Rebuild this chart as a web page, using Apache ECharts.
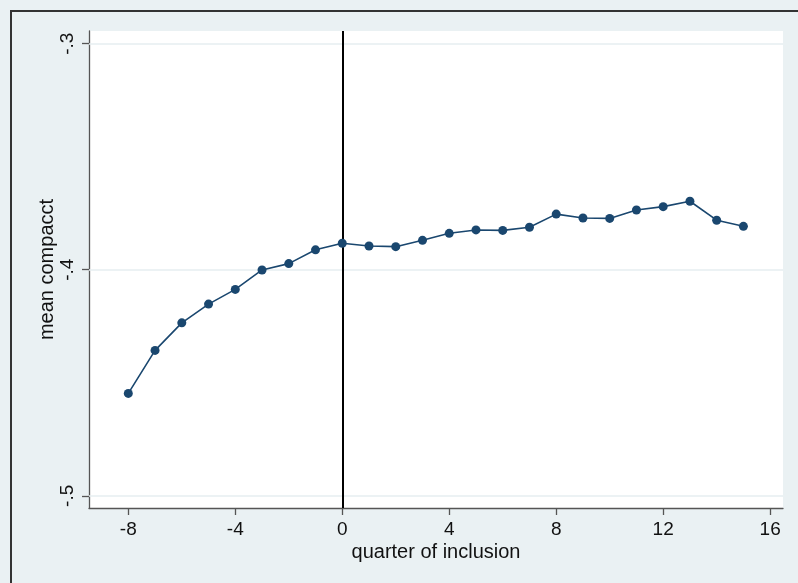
<!DOCTYPE html>
<html>
<head>
<meta charset="utf-8">
<script src="https://cdn.jsdelivr.net/npm/echarts@6/dist/echarts.min.js"></script>
<style>
  html, body { margin: 0; padding: 0; background: #eaf1f3; }
  #wrap { position: relative; width: 798px; height: 583px; overflow: hidden; background: #eaf1f3; }
  #frame { position: absolute; left: 10px; top: 10px; width: 800px; height: 600px; border-left: 2px solid #333; border-top: 2px solid #333; box-sizing: border-box; pointer-events: none; }
  #chart { position: absolute; left: 0; top: 0; width: 798px; height: 583px; }
</style>
</head>
<body>
<div id="wrap">
  <div id="chart"></div>
  <div id="frame"></div>
</div>
<script>
const quarters = [-8, -7, -6, -5, -4, -3, -2, -1, 0, 1, 2, 3, 4, 5, 6, 7, 8, 9, 10, 11, 12, 13, 14, 15];
const meanCompacct = [-0.4547, -0.4357, -0.4235, -0.4152, -0.4087, -0.4001, -0.3973, -0.3912, -0.3883, -0.3895, -0.3898, -0.3870, -0.3839, -0.3824, -0.3826, -0.3812, -0.3754, -0.3771, -0.3773, -0.3736, -0.3721, -0.3697, -0.3781, -0.3808];
const xTicks = [-8, -4, 0, 4, 8, 12, 16];
const yTicks = [-0.5, -0.4, -0.3];
const inclusionQuarter = 0;

const chart = echarts.init(document.getElementById('chart'), null, { renderer: 'canvas' });
const fontFamily = '"Liberation Sans", Arial, Helvetica, sans-serif';
const fmtY = v => String(Math.round(v * 10) / 10).replace('0.', '.');

chart.setOption({
  animation: false,
  backgroundColor: 'transparent',
  grid: { left: 89, top: 31, right: 15, bottom: 75, show: true, backgroundColor: '#ffffff', borderWidth: 0 },
  xAxis: {
    type: 'value',
    min: -9.47,
    max: 16.48,
    name: 'quarter of inclusion',
    nameLocation: 'middle',
    nameGap: 34,
    nameMoveOverlap: false,
    nameTextStyle: { fontFamily, fontSize: 20, color: '#111' },
    axisLine: { show: true, onZero: false, lineStyle: { color: '#555', width: 1.3 } },
    axisTick: { show: true, length: 7, customValues: xTicks, lineStyle: { color: '#555', width: 1.3 } },
    axisLabel: { customValues: xTicks, fontFamily, fontSize: 19, color: '#111', margin: 12 },
    splitLine: { show: false }
  },
  yAxis: {
    type: 'value',
    min: -0.5054,
    max: -0.2944,
    name: 'mean compacct',
    nameLocation: 'middle',
    nameGap: 32,
    nameMoveOverlap: false,
    nameTextStyle: { fontFamily, fontSize: 20, color: '#111' },
    axisLine: { show: true, onZero: false, lineStyle: { color: '#555', width: 1.3 } },
    axisTick: { show: true, length: 7, customValues: yTicks, lineStyle: { color: '#555', width: 1.3 } },
    axisLabel: { customValues: yTicks, rotate: 90, fontFamily, fontSize: 19, color: '#111', margin: 12, formatter: fmtY },
    splitLine: { show: false }
  },
  series: [{
    type: 'line',
    data: quarters.map((q, i) => [q, meanCompacct[i]]),
    symbol: 'circle',
    symbolSize: 9,
    itemStyle: { color: '#1a476f' },
    lineStyle: { color: '#1a476f', width: 1.6 },
    z: 5,
    markLine: {
      silent: true,
      symbol: 'none',
      label: { show: false },
      animation: false,
      data: [
        ...yTicks.map(v => ({ yAxis: v, lineStyle: { color: '#e6eef1', width: 1.5, type: 'solid' } })),
        { xAxis: inclusionQuarter, lineStyle: { color: '#000', width: 2, type: 'solid' } }
      ]
    }
  }]
});
</script>
</body>
</html>
